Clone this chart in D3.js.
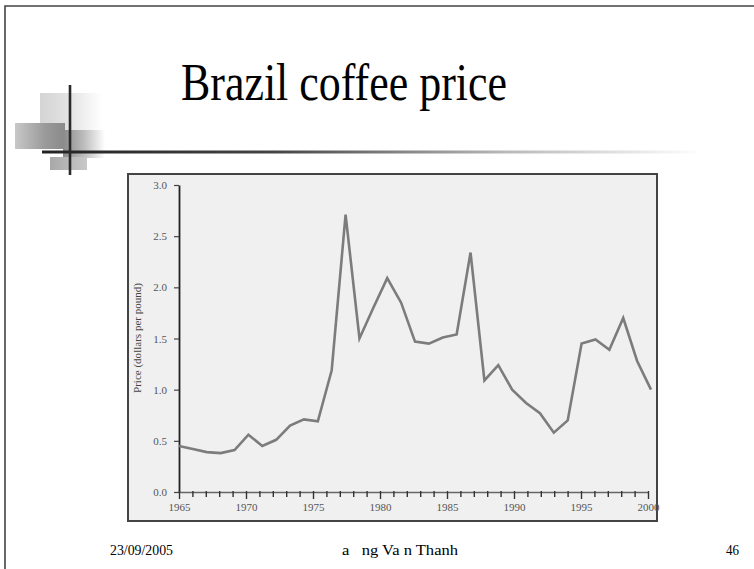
<!DOCTYPE html>
<html><head><meta charset="utf-8">
<script src="https://cdn.jsdelivr.net/npm/d3@7"></script>
<style>html,body{margin:0;padding:0;background:#fff;} svg{display:block;}</style>
</head><body><svg id="c" width="754" height="569"></svg>
<script>
// ---- data ----
const years = [1965,1966,1967,1968,1969,1970,1971,1972,1973,1974,1975,1976,1977,1978,1979,1980,1981,1982,1983,1984,1985,1986,1987,1988,1989,1990,1991,1992,1993,1994,1995,1996,1997,1998,1999];
const prices = [0.45,0.42,0.39,0.38,0.41,0.56,0.45,0.51,0.65,0.71,0.69,1.19,2.71,1.50,1.80,2.09,1.85,1.47,1.45,1.51,1.54,2.34,1.09,1.24,1.00,0.87,0.77,0.58,0.70,1.45,1.49,1.39,1.70,1.28,1.00];
const yTickValues = [0,0.5,1.0,1.5,2.0,2.5,3.0];
const xTickYears = [1965,1966,1967,1968,1969,1970,1971,1972,1973,1974,1975,1976,1977,1978,1979,1980,1981,1982,1983,1984,1985,1986,1987,1988,1989,1990,1991,1992,1993,1994,1995,1996,1997,1998,1999,2000];
const xLabelYears = [1965,1970,1975,1980,1985,1990,1995,2000];
const titleText = "Brazil coffee price";
const yTitleText = "Price (dollars per pound)";
const footerDate = "23/09/2005";
const footerAuthor = "a   ng Va n Thanh";
const footerPage = "46";

const svg = d3.select("#c");
const serif = "'Liberation Serif','Times New Roman',serif";
const defs = svg.append("defs");

// slide border
svg.append("path").attr("d","M5,569 V6 H754").attr("fill","none").attr("stroke","#444").attr("stroke-width",1.6);

// decorative squares
function grad(id, stops){
  const g = defs.append("linearGradient").attr("id",id).attr("x1","0").attr("x2","1").attr("y1","0").attr("y2","0");
  stops.forEach(s=>g.append("stop").attr("offset",s[0]).attr("stop-color",s[1]).attr("stop-opacity",s[2]===undefined?1:s[2]));
}
grad("gLight",[[0,"#d4d4d4"],[0.5,"#e4e4e4"],[1,"#ffffff"]]);
grad("gLeft",[[0,"#c8c8c8"],[0.6,"#9a9a9a"],[1,"#8a8a8a"]]);
grad("gRight",[[0,"#8a8a8a"],[0.5,"#bdbdbd"],[1,"#ffffff"]]);
grad("gBot",[[0,"#a8a8a8"],[1,"#c8c8c8"]]);
grad("gRule",[[0,"#222"],[0.35,"#444"],[0.7,"#b8b8b8"],[1,"#ffffff"]]);

svg.append("rect").attr("x",40).attr("y",93).attr("width",62).attr("height",37).attr("fill","url(#gLight)");
svg.append("rect").attr("x",15).attr("y",123).attr("width",50).attr("height",26).attr("fill","url(#gLeft)");
svg.append("rect").attr("x",63).attr("y",130).attr("width",42).attr("height",28).attr("fill","url(#gRight)");
svg.append("rect").attr("x",50).attr("y",157).attr("width",37).attr("height",13).attr("fill","url(#gBot)");

// horizontal rule & vertical line
svg.append("rect").attr("x",42).attr("y",150.5).attr("width",660).attr("height",3).attr("fill","url(#gRule)");
svg.append("line").attr("x1",70).attr("x2",70).attr("y1",85).attr("y2",175).attr("stroke","#2a2a2a").attr("stroke-width",2.6);

// title
svg.append("text").attr("x",181).attr("y",100).attr("font-family",serif).attr("font-size",52)
  .attr("textLength",326).attr("lengthAdjust","spacingAndGlyphs").attr("fill","#000").text(titleText);

// chart box
svg.append("rect").attr("x",128).attr("y",174).attr("width",529).attr("height",347)
  .attr("fill","#f0f0f0").attr("stroke","#444").attr("stroke-width",2);

// scales
const y = d3.scaleLinear().domain([0,3]).range([492,185]);
const xAxisScale = d3.scaleLinear().domain([1965,2000]).range([179,648]);
const xData = d3.scaleLinear().domain([1965,1999]).range([179,651]);

// y axis
const gy = svg.append("g").attr("transform","translate(179,0)")
  .call(d3.axisLeft(y).tickValues(yTickValues).tickFormat(d3.format(".1f")).tickSize(5).tickSizeOuter(0).tickPadding(7));
gy.select(".domain").attr("stroke","#222").attr("stroke-width",1.8);
gy.selectAll(".tick line").attr("stroke","#444").attr("stroke-width",1.2);
gy.selectAll(".tick text").attr("font-family",serif).attr("font-size",11).attr("fill","#555");

// x axis
const gx = svg.append("g").attr("transform","translate(0,492)")
  .call(d3.axisBottom(xAxisScale).tickValues(xTickYears)
    .tickFormat(d => xLabelYears.includes(d) ? String(d) : "")
    .tickSize(5).tickSizeOuter(0).tickPadding(6));
gx.select(".domain").attr("stroke","#666").attr("stroke-width",1.3);
gx.selectAll(".tick line").attr("stroke","#333").attr("stroke-width",1.4)
  .attr("y1",-1).attr("y2", d => xLabelYears.includes(d) ? 7 : 5);
gx.selectAll(".tick text").attr("font-family",serif).attr("font-size",11).attr("fill","#555");

// y title
svg.append("text").attr("transform","translate(141,338) rotate(-90)").attr("text-anchor","middle")
  .attr("font-family",serif).attr("font-size",10.5).attr("fill","#444")
  .attr("textLength",110).attr("lengthAdjust","spacingAndGlyphs").text(yTitleText);

// line
const line = d3.line().x((d,i)=>xData(years[i])).y(d=>y(d));
svg.append("path").datum(prices).attr("d",line).attr("fill","none")
  .attr("stroke","#7c7c7c").attr("stroke-width",2.6).attr("stroke-linejoin","miter");

// footer
svg.append("text").attr("x",110).attr("y",555).attr("font-family",serif).attr("font-size",15)
  .attr("textLength",63).attr("lengthAdjust","spacingAndGlyphs").text(footerDate);
svg.append("text").attr("x",342).attr("y",555).attr("font-family",serif).attr("font-size",15)
  .attr("xml:space","preserve").style("white-space","pre")
  .attr("textLength",116).attr("lengthAdjust","spacingAndGlyphs").text(footerAuthor);
svg.append("text").attr("x",726).attr("y",555).attr("font-family",serif).attr("font-size",15)
  .attr("textLength",13).attr("lengthAdjust","spacingAndGlyphs").text(footerPage);
</script>
</body></html>
